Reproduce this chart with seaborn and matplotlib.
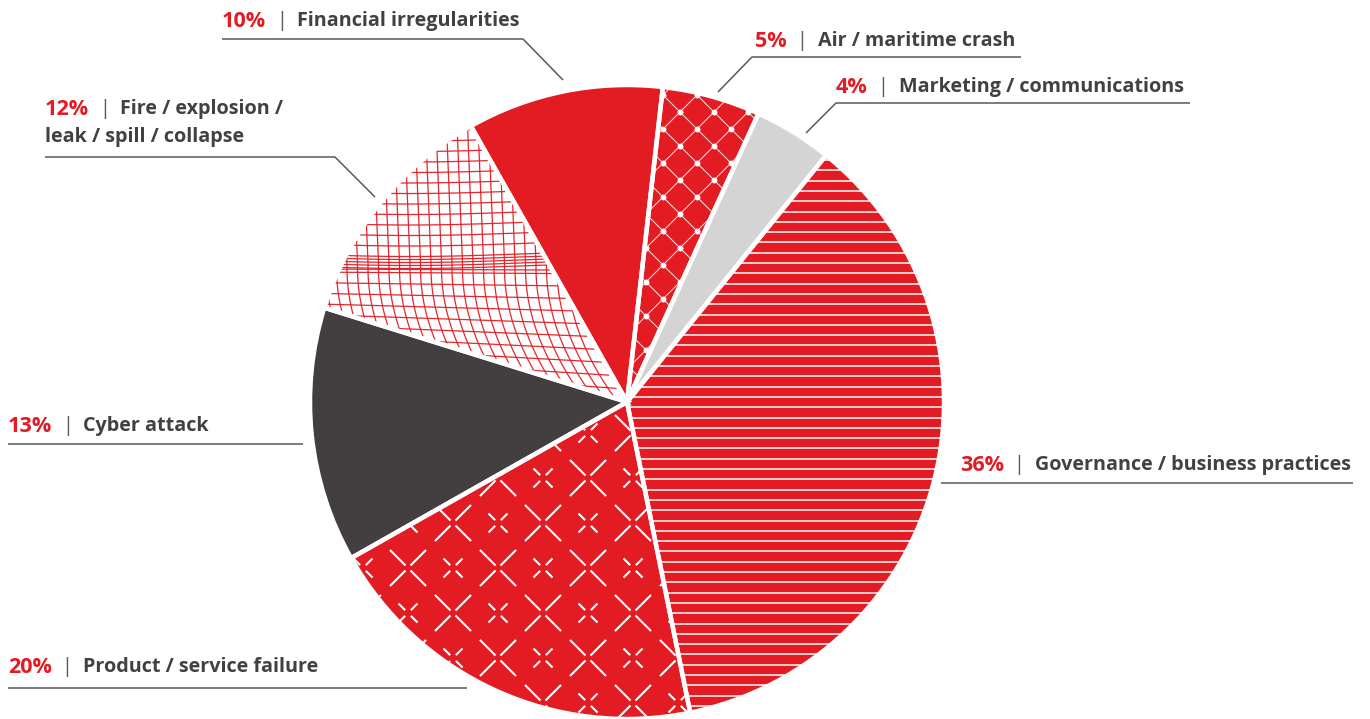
import numpy as np
import matplotlib
matplotlib.use("Agg")
import matplotlib.pyplot as plt
import seaborn as sns
from matplotlib.collections import LineCollection

# ---------------- data ----------------
categories = ["Air / maritime crash", "Marketing / communications",
              "Governance / business practices", "Product / service failure",
              "Cyber attack", "Fire / explosion /", "Financial irregularities"]
category_line2 = ["", "", "", "", "", "leak / spill / collapse", ""]
shares = [5, 4, 36, 20, 13, 12, 10]
pct_labels = ["5%", "4%", "36%", "20%", "13%", "12%", "10%"]

# ---------------- style ----------------
sns.set_theme(style="white")
plt.rcParams["font.family"] = ["Open Sans", "DejaVu Sans"]

RED = "#E31B23"
DARK = "#433F40"
LGRAY = "#D4D4D4"
TXT = "#414042"
LINE = "#58595B"
face = [RED, LGRAY, RED, RED, DARK, "white", RED]

W, H = 1370, 719
fig = plt.figure(figsize=(W / 100, H / 100), dpi=100)
ax = fig.add_axes([0, 0, 1, 1])
CX, CY, R = 627, 402, 317


def Y(y):
    return H - y


wedges, _ = ax.pie(shares, colors=face, startangle=83.5, counterclock=False,
                   center=(CX, Y(CY)), radius=R,
                   wedgeprops=dict(linewidth=0, zorder=1))
ax.set_xlim(0, W)
ax.set_ylim(0, H)
ax.set_aspect("equal")
ax.axis("off")


def add_lines(segs, wedge, color, lw, alpha=1.0, z=2):
    lc = LineCollection(segs, colors=color, linewidths=lw, alpha=alpha,
                        zorder=z, capstyle="butt")
    ax.add_collection(lc)
    lc.set_clip_path(wedge)
    return lc


def pix(pts):
    return [(x, Y(y)) for x, y in pts]


# Governance: horizontal white lines
w_gov = wedges[2]
segs = []
for y in np.arange(CY - R + 3, CY + R, 10.3):
    segs.append(pix([(CX - R - 5, y), (CX + R + 5, y)]))
add_lines(segs, w_gov, "white", 1.1)

# Air: thin diamond lattice with dots
w_air = wedges[0]
segs = []
for k in range(-40, 40):
    c = 568 + 34 * k
    segs.append(pix([(c, 0), (c + 719, 719)]))
    c2 = 792 + 34 * k
    segs.append(pix([(c2, 0), (c2 - 719, 719)]))
add_lines(segs, w_air, "white", 0.7, alpha=0.9)
dx, dy = [], []
for j in range(-10, 30):
    for i in range(-10, 20):
        x = 680 + 34 * i + 17 * (j % 2)
        y = 112 + 17 * j
        if 560 < x < 800 and 60 < y < 420:
            dx.append(x)
            dy.append(Y(y))
sc = ax.scatter(dx, dy, s=18, color="white", zorder=3, linewidths=0)
sc.set_clip_path(w_air)

# Product: dashed big diamond lattice with small crosses
w_prod = wedges[3]
segs = []
dirs = [np.array(d) / np.sqrt(2) for d in [(1, 1), (1, -1), (-1, 1), (-1, -1)]]
for j in range(-6, 10):
    for i in range(-6, 8):
        off = 45 * (j % 2)
        cx_, cy_ = 453 + 90 * i + off, 523 + 45 * j
        mx_, my_ = 498 + 90 * i + off, 523 + 45 * j
        for d in dirs:
            p0 = (cx_ + d[0] * 3.5, cy_ + d[1] * 3.5)
            p1 = (cx_ + d[0] * 25.5, cy_ + d[1] * 25.5)
            segs.append(pix([p0, p1]))
            q0 = (mx_ + d[0] * 4.0, my_ + d[1] * 4.0)
            q1 = (mx_ + d[0] * 13.5, my_ + d[1] * 13.5)
            segs.append(pix([q0, q1]))
add_lines(segs, w_prod, "white", 1.5)

# Fire: warped red grid on white
w_fire = wedges[5]
yb = 263.0
s = 10.5


def xshift(y):
    y = np.asarray(y, dtype=float)
    below = np.clip(y - yb - 5, 0, None)
    above = np.clip(yb - y, 0, None)
    return 0.0028 * below ** 2 - 0.04 * above


def ywarp(x, y0):
    x = np.asarray(x, dtype=float)
    if y0 > yb + 5:
        return y0 + 0.08 * (x - 300) * (y0 - yb) / 120
    return y0 + 2.5 * np.sin((x - 300) / 70.0)


rows = list(yb - 9 - s * np.arange(0, 20)) + [yb - 6, yb - 3, yb, yb + 3, yb + 6] + \
    list(yb + 9 + s * np.arange(0, 20))
segs = []
xs = np.linspace(280, 660, 80)
for y0 in rows:
    ys = ywarp(xs, y0)
    segs.append(pix(list(zip(xs, ys))))
ys = np.linspace(60, 440, 120)
for u in np.arange(200, 700, s):
    segs.append(pix(list(zip(u + xshift(ys), ys))))
add_lines(segs, w_fire, RED, 0.9, alpha=0.95)

# white separators on top
ax.pie(shares, colors=["none"] * len(shares), startangle=83.5, counterclock=False,
       center=(CX, Y(CY)), radius=R,
       wedgeprops=dict(linewidth=3.2, edgecolor="white", zorder=6))
ax.set_xlim(0, W)
ax.set_ylim(0, H)
ax.set_aspect("equal")
ax.axis("off")

# ---------------- labels ----------------
FS = 14.2
FS_PCT = 15.6
label_pos = {  # (x, baseline y) in pixels
    0: (755, 47), 1: (836, 93), 2: (960, 471), 3: (8, 673),
    4: (8, 432), 5: (45, 115), 6: (222, 27),
}
leaders = {
    0: [(718, 92), (752, 57), (1021, 57)],
    1: [(806, 133), (836, 103), (1190, 103)],
    2: [(941, 483), (1353, 483)],
    3: [(8, 688), (467, 688)],
    4: [(8, 444), (303, 444)],
    5: [(45, 157), (335, 157), (375, 197)],
    6: [(222, 39), (523, 39), (563, 80)],
}
for i in range(len(shares)):
    x, yb_ = label_pos[i]
    t1 = ax.text(x, Y(yb_), pct_labels[i], color=RED, fontsize=FS_PCT,
                 fontweight="bold", va="baseline", ha="left", zorder=10)
    t2 = ax.annotate("|", xy=(1, 0), xycoords=t1, xytext=(7.0, 0.5),
                     textcoords="offset points", va="bottom", ha="left",
                     fontsize=FS, color="#58595B", fontweight="normal", zorder=10)
    ax.annotate(categories[i], xy=(1, 0), xycoords=t2, xytext=(7.5, 0),
                textcoords="offset points", va="bottom", ha="left",
                fontsize=FS, color=TXT, fontweight="bold", zorder=10)
    if category_line2[i]:
        ax.text(x, Y(yb_ + 27), category_line2[i], color=TXT, fontsize=FS,
                fontweight="bold", va="baseline", ha="left", zorder=10)
    pts = leaders[i]
    ax.plot([p[0] for p in pts], [Y(p[1]) for p in pts], color=LINE,
            lw=1.1, zorder=10, solid_capstyle="butt")

fig.savefig("out.png", dpi=100, facecolor="white")
